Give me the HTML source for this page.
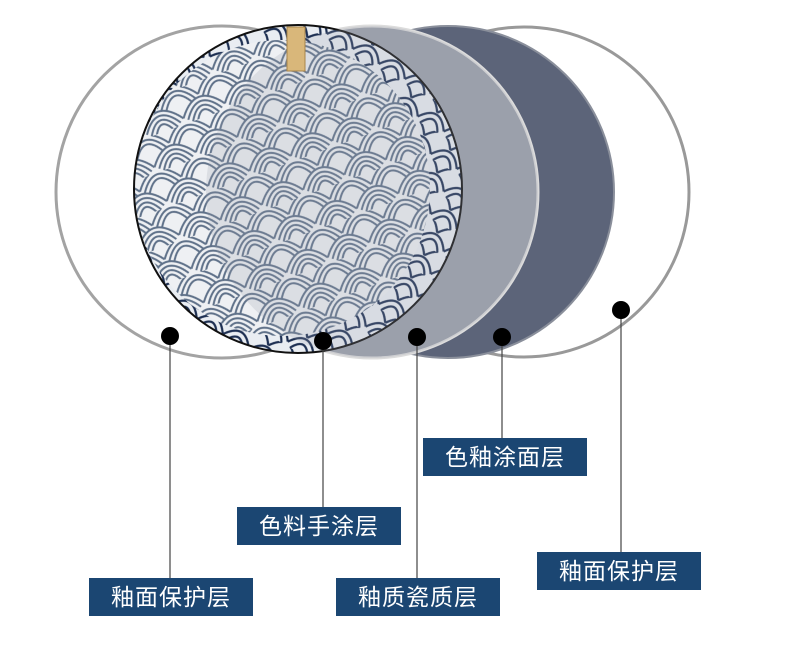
<!DOCTYPE html>
<html><head><meta charset="utf-8"><style>
html,body{margin:0;padding:0;background:#fff;width:790px;height:666px;overflow:hidden}
.lb{position:absolute;background:#1b4672;color:#fff;font-family:"Liberation Sans","Noto Sans CJK SC",sans-serif;font-size:23px;line-height:38px;height:38px;width:164px;text-align:center;letter-spacing:1px}
svg{position:absolute;left:0;top:0}
</style></head><body>
<svg width="790" height="666" viewBox="0 0 790 666">
<defs>
<pattern id="wv" width="44" height="36" patternUnits="userSpaceOnUse" patternTransform="rotate(-20)">
<rect width="44" height="36" fill="#eef0f3"/>
<g fill="none" stroke="#5f7189" stroke-width="2">
<path d="M0 30 Q22 0 44 30"/><path d="M4 33 Q22 6 40 33"/><path d="M8 36 Q22 12 36 36"/><path d="M12 39 Q22 18 32 39"/>
<path d="M-22 12 Q0 -18 22 12"/><path d="M22 12 Q44 -18 66 12"/><path d="M-18 15 Q0 -12 18 15"/><path d="M26 15 Q44 -12 62 15"/><path d="M-14 18 Q0 -6 14 18"/><path d="M30 18 Q44 -6 58 18"/>
</g></pattern>
<pattern id="wv2" width="30" height="26" patternUnits="userSpaceOnUse" patternTransform="rotate(30)">
<rect width="30" height="26" fill="#e9edf2"/>
<g fill="none" stroke="#1d2f52" stroke-width="2.2">
<path d="M0 22 Q15 0 30 22"/><path d="M5 26 Q15 8 25 26"/><path d="M-15 9 Q0 -13 15 9"/><path d="M15 9 Q30 -13 45 9"/>
</g></pattern>
<clipPath id="pc"><circle cx="298" cy="189" r="164"/></clipPath>
</defs>
<circle cx="524" cy="192" r="165" fill="#fff" stroke="#999" stroke-width="3"/>
<circle cx="448" cy="192" r="166" fill="#5c6479" stroke="#8a8f9b" stroke-width="2"/>
<circle cx="372" cy="192" r="166" fill="#9ca0ab" stroke="#dcdcdc" stroke-width="3"/>
<circle cx="222" cy="192" r="166" fill="none" stroke="#a3a3a3" stroke-width="3"/>
<g clip-path="url(#pc)">
<rect x="130" y="20" width="340" height="340" fill="url(#wv2)"/>
<circle cx="282" cy="188" r="148" fill="url(#wv)"/>
</g>
<circle cx="298" cy="189" r="164" fill="none" stroke="#111" stroke-width="2"/>
<circle cx="372" cy="192" r="166" fill="#9ca0ab" opacity="0.22"/>
<rect x="287" y="27" width="18" height="44" fill="#d9b77a" stroke="#a8844a"/>
<g stroke="#444" stroke-width="1.2">
<line x1="170" y1="336" x2="170" y2="578"/>
<line x1="323" y1="341" x2="323" y2="507"/>
<line x1="417" y1="337" x2="417" y2="578"/>
<line x1="502" y1="337" x2="502" y2="438"/>
<line x1="621" y1="310" x2="621" y2="552"/>
</g>
<g fill="#000">
<circle cx="170" cy="336" r="9"/><circle cx="323" cy="341" r="9"/><circle cx="417" cy="337" r="9"/><circle cx="502" cy="337" r="9"/><circle cx="621" cy="310" r="9"/>
</g>
</svg>
<div class="lb" style="left:89px;top:578px">釉面保护层</div>
<div class="lb" style="left:237px;top:507px">色料手涂层</div>
<div class="lb" style="left:336px;top:578px">釉质瓷质层</div>
<div class="lb" style="left:423px;top:438px">色釉涂面层</div>
<div class="lb" style="left:537px;top:552px">釉面保护层</div>
</body></html>
